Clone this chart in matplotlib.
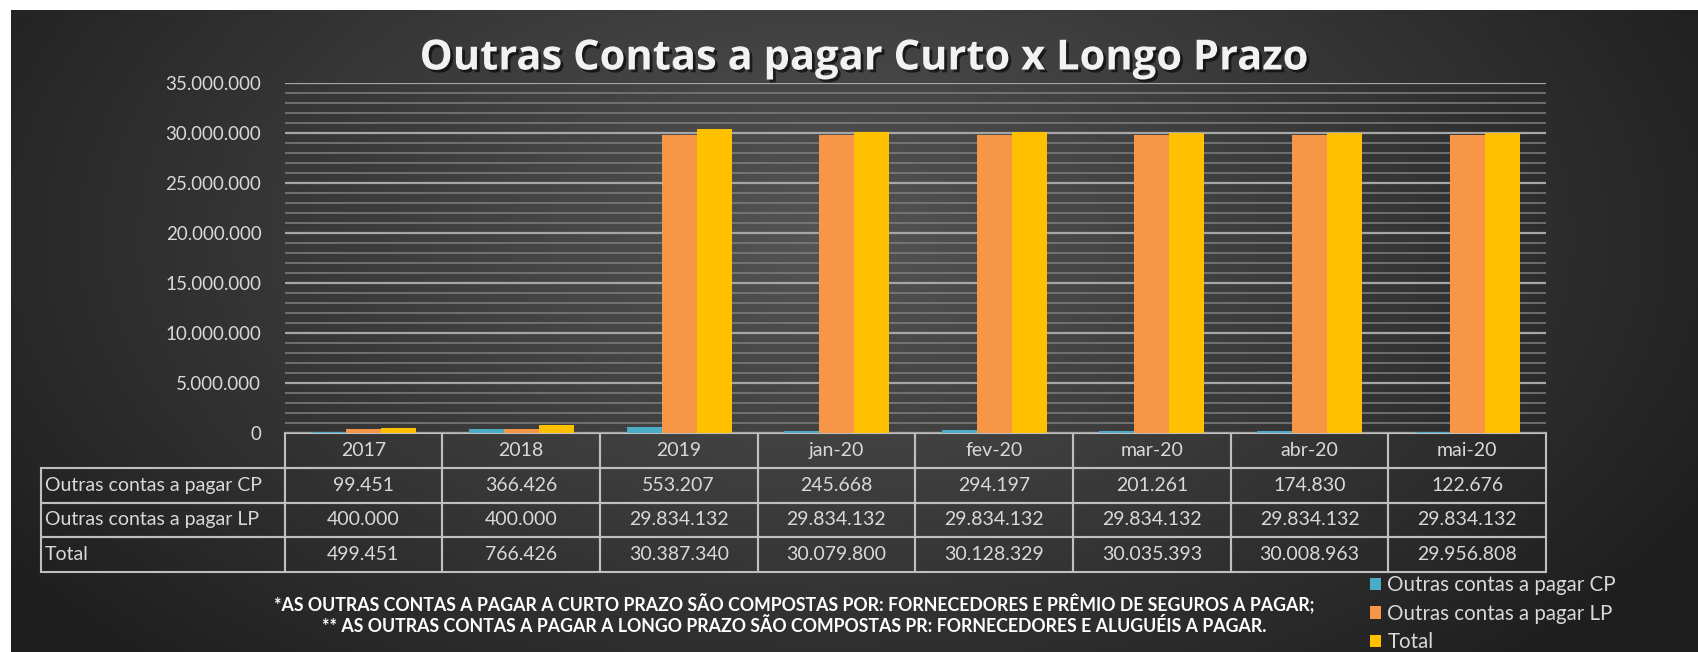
import numpy as np
import matplotlib
matplotlib.use("Agg")
import matplotlib.pyplot as plt
from matplotlib.ticker import MultipleLocator, FuncFormatter
import matplotlib.patheffects as pe

plt.rcParams['font.family'] = ['Lato', 'DejaVu Sans']

periods = ['2017', '2018', '2019', 'jan-20', 'fev-20', 'mar-20', 'abr-20', 'mai-20']
cp = [99451, 366426, 553207, 245668, 294197, 201261, 174830, 122676]
lp = [400000, 400000, 29834132, 29834132, 29834132, 29834132, 29834132, 29834132]
total = [499451, 766426, 30387340, 30079800, 30128329, 30035393, 30008963, 29956808]
series_names = ['Outras contas a pagar CP', 'Outras contas a pagar LP', 'Total']
colors = ['#4bacc6', '#f79646', '#ffc000']

title = 'Outras Contas a pagar Curto x Longo Prazo'
note1 = '*AS OUTRAS CONTAS A PAGAR A CURTO PRAZO SÃO COMPOSTAS POR: FORNECEDORES E PRÊMIO DE SEGUROS A PAGAR;'
note2 = '** AS OUTRAS CONTAS A PAGAR A LONGO PRAZO SÃO COMPOSTAS PR: FORNECEDORES E ALUGUÉIS A PAGAR.'


def fmt(v):
    return f"{int(v):,}".replace(",", ".")


W, H = 1698, 652
fig = plt.figure(figsize=(W / 100, H / 100), dpi=100, facecolor='white')

# dark radial background (white strip top/left like the screenshot)
bg = fig.add_axes([0, 0, 1, 1], zorder=-10)
yy, xx = np.mgrid[0:H, 0:W]
d = np.sqrt(((xx - 820) / 1000.0) ** 2 + ((yy - 230) / 600.0) ** 2)
d = np.clip(d, 0, 1)
shade = 0.33 - 0.21 * d
img = np.dstack([shade, shade, shade])
bg.imshow(img, extent=[11, W, H, 10], aspect='auto')
bg.set_xlim(0, W)
bg.set_ylim(H, 0)
bg.axis('off')

# plot area
left, right, top, zero = 285, 1546, 83, 433
ax = fig.add_axes([left / W, 1 - zero / H, (right - left) / W, (zero - top) / H])
ax.set_facecolor('none')

x = np.arange(len(periods))
bw = 0.222
bars = []
for i, (vals, c) in enumerate(zip([cp, lp, total], colors)):
    bars.append(ax.bar(x + (i - 1) * bw, vals, bw, color=c, zorder=3, label=series_names[i]))

ax.set_xlim(-0.5, len(periods) - 0.5)
ax.set_ylim(0, 35000000)
ax.yaxis.set_major_locator(MultipleLocator(5000000))
ax.yaxis.set_minor_locator(MultipleLocator(1000000))
ax.yaxis.set_major_formatter(FuncFormatter(lambda v, p: fmt(v)))
ax.grid(axis='y', which='major', color='#a6a6a6', lw=1.6, zorder=1)
ax.grid(axis='y', which='minor', color='#7f7f7f', lw=1.1, zorder=1)
ax.tick_params(axis='y', which='both', length=0, pad=17, labelsize=13.5, labelcolor='#d9d9d9')
ax.set_xticks([])
for s in ax.spines.values():
    s.set_visible(False)

# data table under the axis
rows = [[''] + periods]
for name, vals in zip(series_names, [cp, lp, total]):
    rows.append([name] + [fmt(v) for v in vals])

tab_left, tab_bottom = 41, 572
bbox = [(tab_left - left) / (right - left), -(tab_bottom - zero) / (zero - top),
        (right - tab_left) / (right - left), (tab_bottom - zero) / (zero - top)]
tbl = ax.table(cellText=rows, colWidths=[244] + [158] * len(periods),
               cellLoc='center', bbox=bbox)
tbl.auto_set_font_size(False)
tbl.set_fontsize(14)
for (r, c), cell in tbl.get_celld().items():
    cell.set_facecolor('none')
    cell.set_edgecolor('#bfbfbf')
    cell.set_linewidth(1.5)
    cell.get_text().set_color('#d9d9d9')
    if c == 0:
        cell.get_text().set_ha('left')
        cell.PAD = 0.015
    if r == 0 and c == 0:
        cell.visible_edges = 'open'

# title
fig.text(864 / W, 1 - 59 / H, title, ha='center', va='center', fontsize=30,
         fontweight='bold', color='#f2f2f2', family=['Open Sans', 'DejaVu Sans'],
         path_effects=[pe.withSimplePatchShadow(offset=(2, -2), shadow_rgbFace='black', alpha=0.6)])

# footnotes
fig.text(794 / W, 1 - 604 / H, note1, ha='center', va='center', fontsize=12.8,
         fontweight='bold', color='white')
fig.text(794 / W, 1 - 626 / H, note2, ha='center', va='center', fontsize=12.8,
         fontweight='bold', color='white')

fig.legend(handles=bars, labels=series_names, loc='upper left',
           bbox_to_anchor=(1370 / W, 1 - 575 / H), frameon=False, fontsize=14.8,
           labelcolor='#d9d9d9', handlelength=0.55, handleheight=0.55,
           handletextpad=0.3, labelspacing=0.42, borderaxespad=0, borderpad=0)

fig.savefig('out.png', dpi=100, facecolor=fig.get_facecolor())
